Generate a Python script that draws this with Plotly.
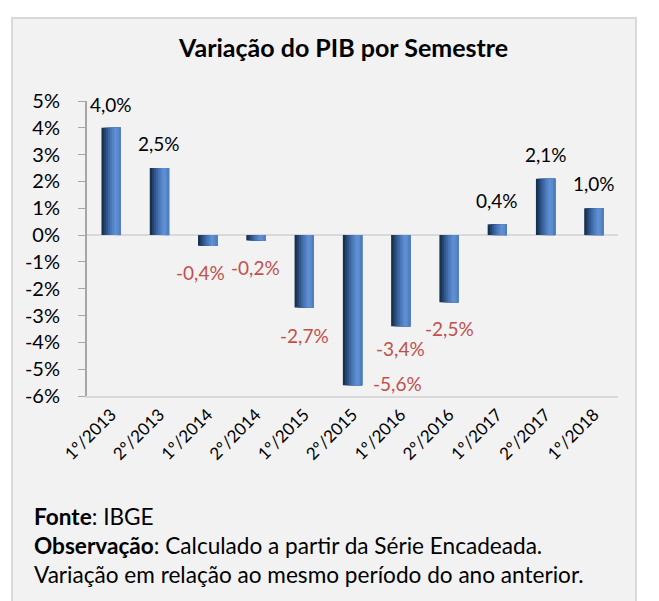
import plotly.graph_objects as go

categories = ["1º/2013", "2º/2013", "1º/2014", "2º/2014", "1º/2015", "2º/2015",
              "1º/2016", "2º/2016", "1º/2017", "2º/2017", "1º/2018"]
values = [4.0, 2.5, -0.4, -0.2, -2.7, -5.6, -3.4, -2.5, 0.4, 2.1, 1.0]
tick_vals = [5, 4, 3, 2, 1, 0, -1, -2, -3, -4, -5, -6]
tick_text = ["5%", "4%", "3%", "2%", "1%", "0%", "-1%", "-2%", "-3%", "-4%", "-5%", "-6%"]

W, H = 659, 601
L, R, T, B = 87, 41, 101, 205
PW, PH = W - L - R, H - T - B
FONT = "Lato"

def px(x):
    return (x - L) / PW

def py(y):
    return 1 - (y - T) / PH

fig = go.Figure()

# cylinder-like gradient made of overlaid strips (each reaches the bar's right edge)
strip_colors = ["#17304f", "#23426c", "#30568a", "#3e67a5", "#4a77b8",
                "#5585c7", "#5e90d3", "#5b8bcd", "#4f7ebf"]
bar_w = 0.40
n = len(strip_colors)
sw = bar_w / n
for i, c in enumerate(strip_colors):
    fig.add_trace(go.Bar(
        x=categories, y=values,
        width=[bar_w - i * sw] * len(values),
        offset=[-bar_w / 2 + i * sw] * len(values),
        marker=dict(color=c, line=dict(width=0)),
        hoverinfo="skip", showlegend=False,
    ))

# data labels
label_shift = {0: (0, 23), 1: (0, 25), 2: (-7, -27), 3: (0, -27), 4: (0, -28),
               5: (45, 2), 6: (0, -22), 7: (0, -26), 8: (0, 24), 9: (0, 24), 10: (0, 25)}
for i, (c, v) in enumerate(zip(categories, values)):
    dx, dy = label_shift[i]
    txt = f"{v:.1f}".replace(".", ",") + "%"
    fig.add_annotation(x=c, y=v, text=txt, showarrow=False,
                       xshift=dx, yshift=dy, yanchor="middle", xanchor="center",
                       font=dict(family=FONT, size=19,
                                 color="#000000" if v >= 0 else "#c0504d"))

# title and footer
fig.add_annotation(xref="paper", yref="paper", x=px(343), y=py(47), text="<b>Variação do PIB por Semestre</b>",
                   showarrow=False, yanchor="middle", xanchor="center",
                   font=dict(family=FONT, size=25, color="#000000"))
footer = ["<b>Fonte</b>: IBGE",
          "<b>Observação</b>: Calculado a partir da Série Encadeada.",
          "Variação em relação ao mesmo período do ano anterior."]
for k, line in enumerate(footer):
    fig.add_annotation(xref="paper", yref="paper", x=px(32), y=py(516 + 29 * k), text=line,
                       xanchor="left", yanchor="middle", showarrow=False,
                       font=dict(family=FONT, size=22.6, color="#000000"))

# outer box
fig.add_shape(type="rect", xref="paper", yref="paper", x0=px(12), x1=px(636), y0=py(640), y1=py(18),
              fillcolor="#f2f2f2", line=dict(color="#d9d9d9", width=2), layer="below")
# zero line
fig.add_shape(type="line", xref="paper", yref="y", x0=0, x1=1, y0=0, y1=0,
              line=dict(color="#d9d9d9", width=2), layer="below")

fig.update_layout(
    width=W, height=H,
    margin=dict(l=L, r=R, t=T, b=B),
    paper_bgcolor="#ffffff", plot_bgcolor="rgba(0,0,0,0)",
    barmode="overlay", showlegend=False,
    font=dict(family=FONT, size=16, color="#000000"),
)
fig.update_yaxes(range=[-6, 5], tickvals=tick_vals, ticktext=tick_text,
                 showgrid=False, zeroline=False, showline=True, linecolor="#a6a6a6", linewidth=2,
                 ticks="outside", ticklen=7, tickcolor="#a6a6a6", tickwidth=1,
                 ticklabelstandoff=14,
                 tickfont=dict(family=FONT, size=20, color="#000000"))
fig.update_xaxes(showgrid=False, showline=True, linecolor="#d9d9d9", linewidth=2,
                 tickangle=-45, ticks="", tickfont=dict(family=FONT, size=17, color="#000000"))

fig.write_html("out.html", post_script="document.body.style.margin='0';",
               config={"displayModeBar": False})
